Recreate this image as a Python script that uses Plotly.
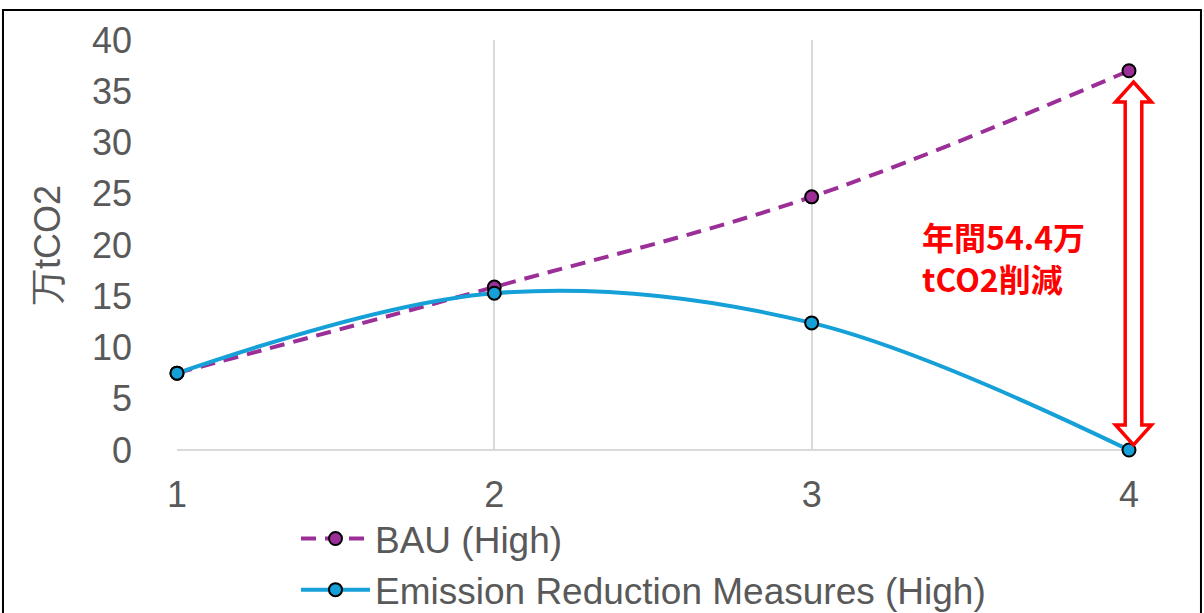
import plotly.graph_objects as go

# Scenario years and emissions (万tCO2)
years = [1, 2, 3, 4]
bau_high = [7.5, 15.9, 24.7, 37.0]
reduction_high = [7.5, 15.3, 12.4, 0.0]

series_names = ["BAU (High)", "Emission Reduction Measures (High)"]
y_title = "万tCO2"
note_text = "年間54.4万<br>tCO2削減"

grey_text = "#595959"
grid_col = "#d9d9d9"
purple = "#9C2E98"
blue = "#16A0D8"

W, H = 1204, 613
M = dict(l=177, r=75, t=40, b=163)
plot_w = W - M["l"] - M["r"]
plot_h = H - M["t"] - M["b"]
y_max = 40


def px_x(px):
    """Horizontal pixel offset from the plot's left edge -> paper fraction."""
    return px / plot_w


def val_y(v):
    """Data value on the y axis -> paper fraction."""
    return v / y_max


fig = go.Figure()

fig.add_trace(go.Scatter(
    x=years, y=bau_high, name=series_names[0],
    mode="lines+markers",
    line=dict(color=purple, width=4, dash="15px,9px", shape="spline", smoothing=1),
    marker=dict(size=13, color=purple, line=dict(color="black", width=2)),
    cliponaxis=False,
))
fig.add_trace(go.Scatter(
    x=years, y=reduction_high, name=series_names[1],
    mode="lines+markers",
    line=dict(color=blue, width=4, shape="spline", smoothing=1),
    marker=dict(size=13, color=blue, line=dict(color="black", width=2)),
    cliponaxis=False,
))

# Hollow double-headed arrow spanning the gap in the final year (paper coords, unclipped)
top = val_y(bau_high[-1] - 1.1)
bot = val_y(reduction_high[-1] + 0.5)
head = val_y(1.95)
cx = 1 + px_x(4.5)
hw = px_x(18)
sw = px_x(8.3)
path = (
    f"M{cx},{top} L{cx + hw},{top - head} L{cx + sw},{top - head} "
    f"L{cx + sw},{bot + head} L{cx + hw},{bot + head} L{cx},{bot} "
    f"L{cx - hw},{bot + head} L{cx - sw},{bot + head} L{cx - sw},{top - head} "
    f"L{cx - hw},{top - head} Z"
)
fig.add_shape(type="path", path=path, xref="paper", yref="paper",
              line=dict(color="#FF0000", width=3.5), fillcolor="white")

fig.add_annotation(x=px_x(920 - M["l"]), y=(450 - 257) / plot_h, xref="paper", yref="paper",
                   xanchor="left", yanchor="middle", align="left",
                   text=note_text, showarrow=False,
                   font=dict(family="Noto Sans CJK JP", size=32, color="#FF0000", weight="bold"))

# Outer frame around the whole chart
fig.add_shape(type="rect", xref="paper", yref="paper",
              x0=-0.1828, x1=1.0756, y0=-0.41, y1=1.0732,
              line=dict(color="black", width=2), fillcolor="rgba(0,0,0,0)")

fig.update_layout(
    width=W, height=H,
    margin=M,
    paper_bgcolor="white", plot_bgcolor="white",
    font=dict(family="Liberation Sans, Arial", size=36, color=grey_text),
    showlegend=True,
    legend=dict(x=0.125, y=(H - 508) / H, xanchor="left", yanchor="top",
                yref="container",
                font=dict(size=37, color=grey_text),
                bgcolor="rgba(0,0,0,0)", tracegroupgap=0, itemwidth=69),
)

fig.update_xaxes(range=[1, 4], tickvals=years, ticktext=[str(v) for v in years],
                 showgrid=True, gridcolor=grid_col, gridwidth=1.5,
                 showline=False, zeroline=False, ticks="", automargin=False,
                 tickfont=dict(size=36, color=grey_text), ticklabelstandoff=20)
fig.update_yaxes(range=[0, y_max], dtick=5, showgrid=False,
                 zeroline=True, zerolinecolor=grid_col, zerolinewidth=1.5,
                 showline=False, ticks="", automargin=False,
                 tickfont=dict(size=36, color=grey_text), ticklabelstandoff=44,
                 title=dict(text=y_title, font=dict(size=36, color=grey_text), standoff=20))

fig.write_html("out.html")
